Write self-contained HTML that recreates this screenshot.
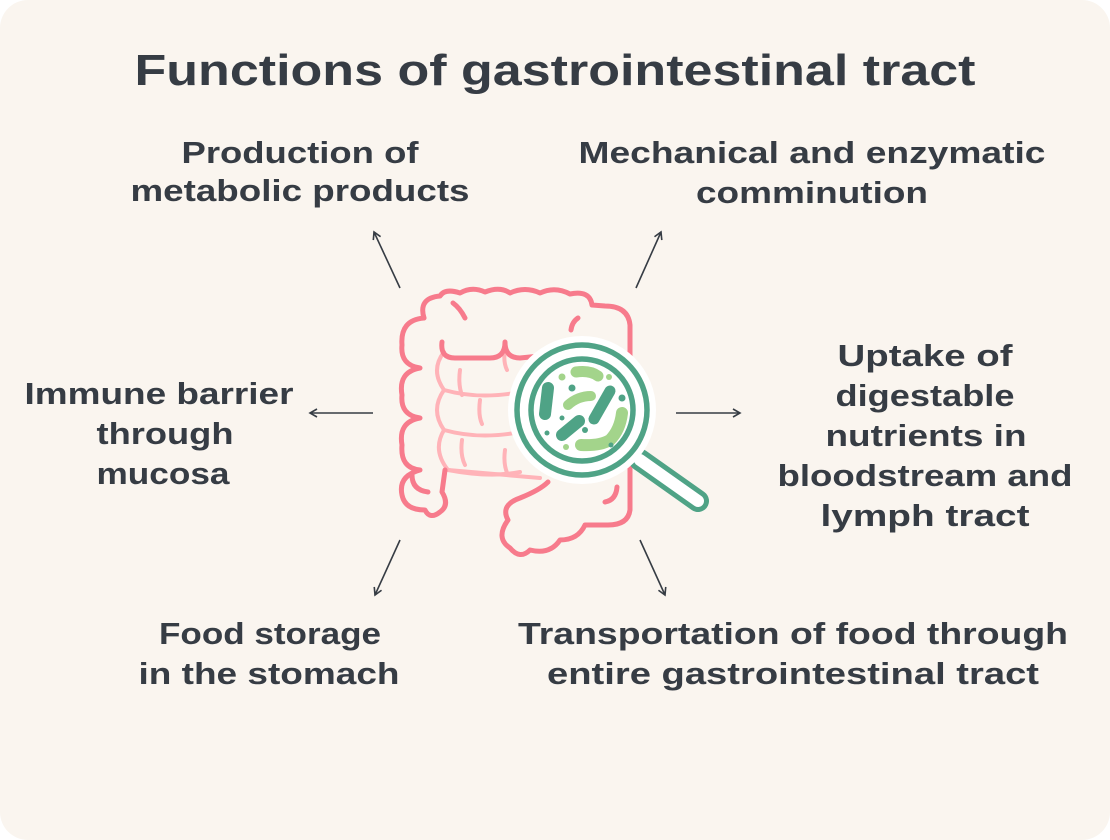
<!DOCTYPE html>
<html><head><style>
html,body{margin:0;padding:0;background:#fff;}
svg{display:block;}
text{font-family:"Liberation Sans",sans-serif;font-weight:bold;fill:#363c44;}
</style></head><body>
<svg width="1110" height="840" viewBox="0 0 1110 840" xmlns="http://www.w3.org/2000/svg">
<rect x="0" y="0" width="1110" height="840" rx="28" fill="#faf5ef"/>
<defs>
<marker id="ah" markerWidth="10" markerHeight="10" refX="8" refY="5" orient="auto" markerUnits="userSpaceOnUse">
<path d="M1,1 L8,5 L1,9" fill="none" stroke="#363c44" stroke-width="1.6"/>
</marker>
</defs>
<text x="555" y="85" font-size="44" text-anchor="middle" textLength="841" lengthAdjust="spacingAndGlyphs">Functions of gastrointestinal tract</text>
<g font-size="31" text-anchor="middle">
<text x="300" y="163" textLength="237" lengthAdjust="spacingAndGlyphs">Production of</text>
<text x="300" y="201" textLength="339" lengthAdjust="spacingAndGlyphs">metabolic products</text>
<text x="812" y="163" textLength="467" lengthAdjust="spacingAndGlyphs">Mechanical and enzymatic</text>
<text x="812" y="203" textLength="232" lengthAdjust="spacingAndGlyphs">comminution</text>
<text x="925" y="366" textLength="175" lengthAdjust="spacingAndGlyphs">Uptake of</text>
<text x="925" y="406" textLength="179" lengthAdjust="spacingAndGlyphs">digestable</text>
<text x="926" y="446" textLength="201" lengthAdjust="spacingAndGlyphs">nutrients in</text>
<text x="925" y="486" textLength="295" lengthAdjust="spacingAndGlyphs">bloodstream and</text>
<text x="925" y="526" textLength="209" lengthAdjust="spacingAndGlyphs">lymph tract</text>
<text x="159" y="404" textLength="269" lengthAdjust="spacingAndGlyphs">Immune barrier</text>
<text x="165" y="444" textLength="137" lengthAdjust="spacingAndGlyphs">through</text>
<text x="163" y="484" textLength="133" lengthAdjust="spacingAndGlyphs">mucosa</text>
<text x="270" y="644" textLength="222" lengthAdjust="spacingAndGlyphs">Food storage</text>
<text x="269" y="684" textLength="261" lengthAdjust="spacingAndGlyphs">in the stomach</text>
<text x="793" y="644" textLength="550" lengthAdjust="spacingAndGlyphs">Transportation of food through</text>
<text x="793" y="684" textLength="492" lengthAdjust="spacingAndGlyphs">entire gastrointestinal tract</text>
</g>
<g stroke="#363c44" stroke-width="1.6" marker-end="url(#ah)">
<line x1="400" y1="288" x2="374" y2="232"/>
<line x1="636" y1="288" x2="661" y2="232"/>
<line x1="373" y1="413" x2="310" y2="413"/>
<line x1="676" y1="413" x2="740" y2="413"/>
<line x1="400" y1="540" x2="375" y2="595"/>
<line x1="640" y1="540" x2="665" y2="595"/>
</g>
<!-- intestine -->
<g fill="none" stroke-linecap="round" stroke-linejoin="round">
<g stroke="#ffb3b8" stroke-width="4">
<path d="M444,352 Q430,370 444,390 Q430,410 444,430 Q432,450 448,470 L540,478"/>
<path d="M444,390 Q480,400 520,392 M444,430 Q480,440 520,432 M448,470 Q490,478 520,472"/>
<path d="M460,370 Q458,385 462,395 M480,400 Q478,415 482,424 M462,440 Q460,455 465,465 M505,450 Q503,465 508,475 M505,350 Q503,362 507,370"/>
</g>
<g stroke="#f77b8c" stroke-width="5">
<path d="M424,318 Q418,298 440,296 Q445,288 460,293 Q472,286 485,292 Q500,286 510,293 Q525,286 540,293 Q555,286 570,294 Q590,290 592,305 L605,306 Q628,306 630,325 L630,510 Q628,525 608,525 L585,525 Q578,540 560,540 Q550,555 530,550 Q520,560 510,548 Q495,538 508,520 Q500,505 520,498 Q540,490 548,482"/>
<path d="M424,318 Q400,320 402,345 Q400,365 420,368 Q398,372 402,395 Q400,415 420,418 Q398,422 402,445 Q400,468 420,470 Q398,476 402,495 Q405,510 425,510 Q430,520 440,512 Q450,505 442,492 L445,470"/>
<path d="M442,342 Q440,358 455,358 L490,358 Q505,358 505,342 Q505,358 520,358 L540,356"/>
<path d="M453,303 Q460,308 465,318 M571,330 Q572,322 578,318 M412,475 Q412,490 428,492 M617,487 Q616,500 605,502"/>
</g>
</g>
<!-- magnifier -->
<line x1="640" y1="460" x2="698" y2="501" stroke="#4fa386" stroke-width="22" stroke-linecap="round"/>
<line x1="640" y1="460" x2="698" y2="501" stroke="#fff" stroke-width="12" stroke-linecap="round"/>
<circle cx="582" cy="410" r="74" fill="#fff"/>
<circle cx="582" cy="410" r="65" fill="none" stroke="#4fa386" stroke-width="5.5"/>
<circle cx="582" cy="410" r="51" fill="none" stroke="#4fa386" stroke-width="5.5"/>
<g stroke-linecap="round" fill="none">
<path d="M548,388 L545,414" stroke="#4fa386" stroke-width="12"/>
<path d="M610,391 L594,419" stroke="#4fa386" stroke-width="11"/>
<path d="M562,435 L579,421" stroke="#4fa386" stroke-width="12"/>
<path d="M576,372 Q590,370 598,376" stroke="#a3d48b" stroke-width="11"/>
<path d="M568,405 Q578,396 591,396" stroke="#a3d48b" stroke-width="10"/>
<path d="M581,445 Q600,446 610,440 Q620,430 622,413" stroke="#a3d48b" stroke-width="12"/>
</g>
<g fill="#4fa386"><circle cx="572" cy="388" r="3.5"/><circle cx="622" cy="398" r="3.5"/><circle cx="585" cy="430" r="3"/><circle cx="562" cy="418" r="2.5"/><circle cx="547" cy="433" r="2.5"/><circle cx="611" cy="445" r="2.5"/></g>
<g fill="#a3d48b"><circle cx="562" cy="377" r="3.5"/><circle cx="609" cy="377" r="3"/><circle cx="566" cy="447" r="3"/></g>
</svg>
</body></html>
